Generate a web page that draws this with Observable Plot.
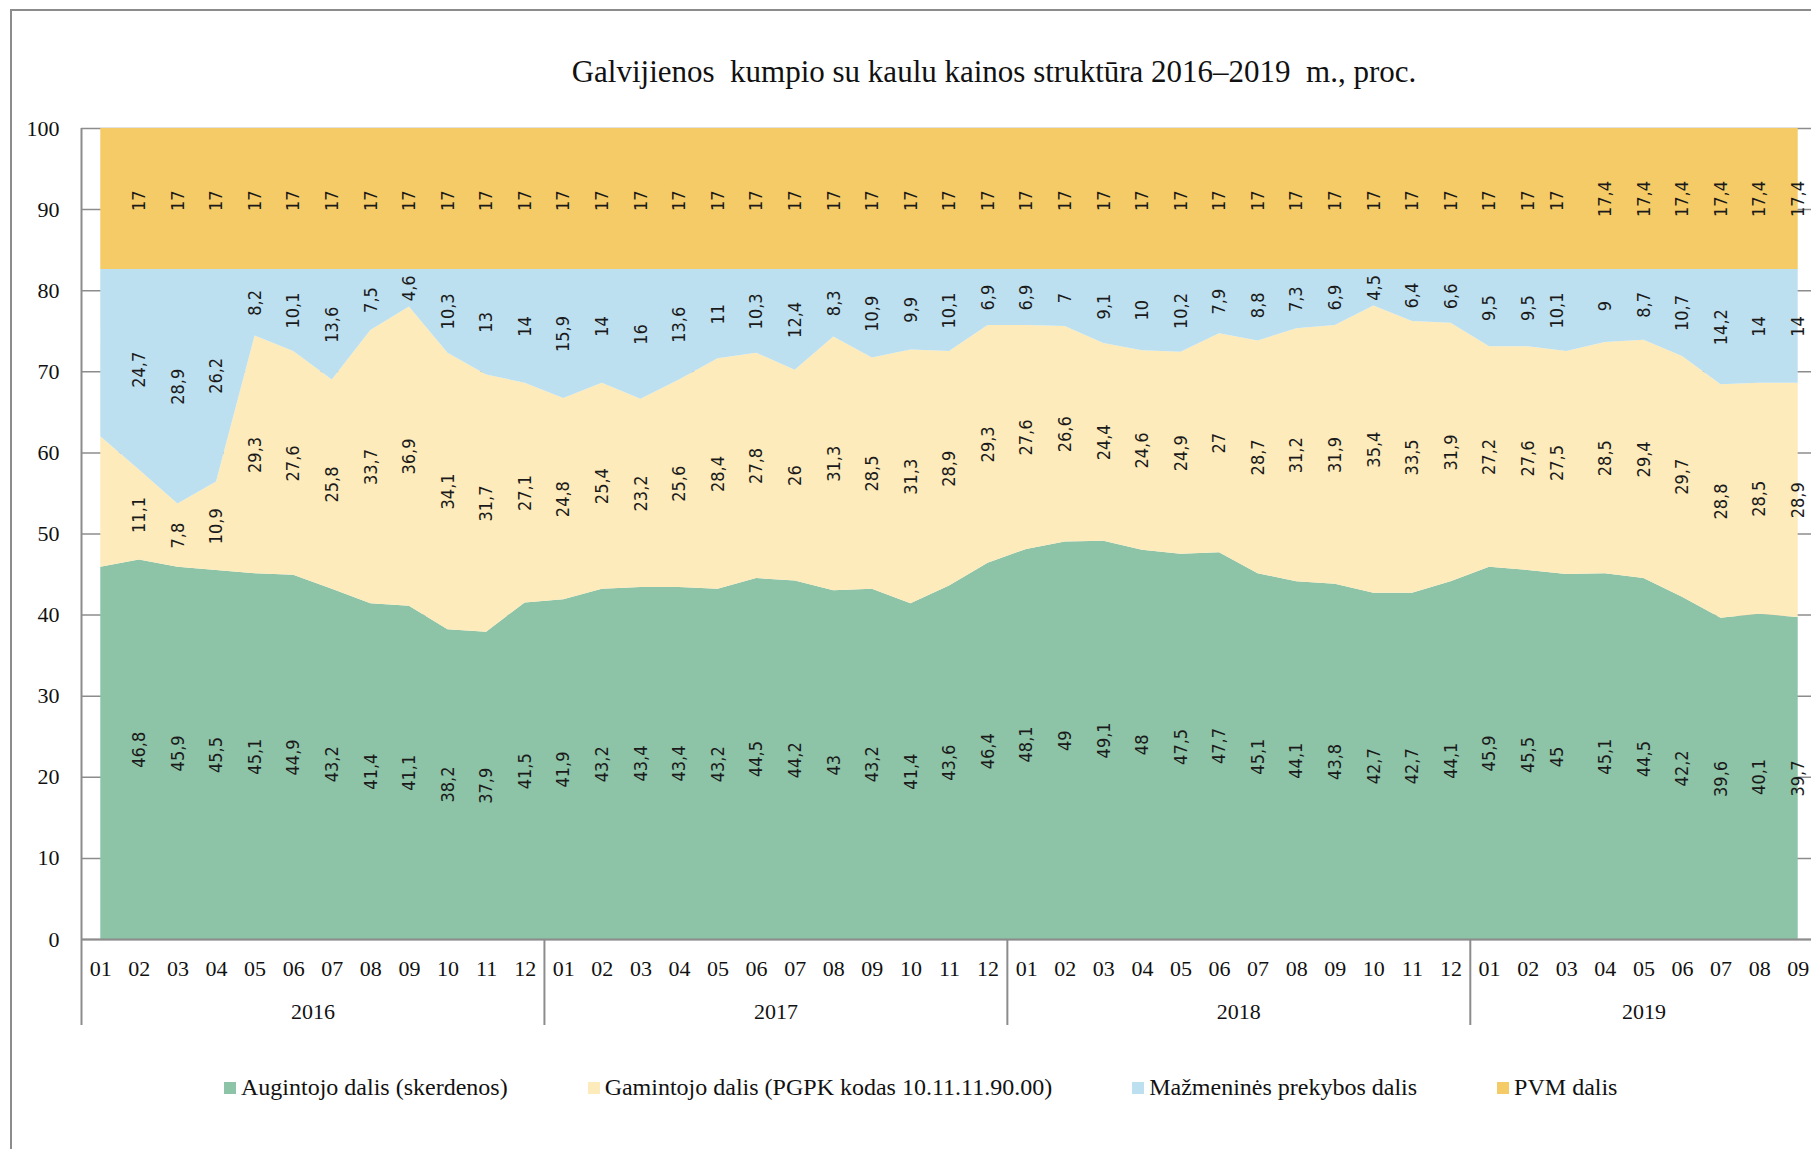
<!DOCTYPE html>
<html>
<head>
<meta charset="utf-8">
<script src="https://cdn.jsdelivr.net/npm/d3@7"></script>
<script src="https://cdn.jsdelivr.net/npm/@observablehq/plot@0.6"></script>
<style>
  html, body { margin: 0; padding: 0; background: #fff; overflow: hidden; width: 1811px; height: 1149px; }
  #frame { position: absolute; left: 10px; top: 9px; width: 2000px; height: 2000px; border: 2px solid #8c8c8c; box-sizing: border-box; }
  #title { position: absolute; left: 0; width: 1988px; top: 56px; line-height: 31px; text-align: center;
           font-family: "Liberation Serif", "Times New Roman", serif; font-size: 31px; white-space: pre; color: #111; }
  #chart { position: absolute; left: 0; top: 100px; }
  #legend { position: absolute; left: 224px; top: 1074px; display: flex; gap: 80px; align-items: center;
            font-family: "Liberation Serif", "Times New Roman", serif; font-size: 24px; color: #111; white-space: pre; }
  .item { display: flex; align-items: center; gap: 5px; }
  .sw { width: 12px; height: 12px; display: inline-block; }
</style>
</head>
<body>
<div id="frame"></div>
<div id="title">Galvijienos  kumpio su kaulu kainos struktūra 2016–2019  m., proc.</div>
<div id="chart"></div>
<div id="legend"></div>
<script>
// ---- Data ----
const periods = [
  "2016-01","2016-02","2016-03","2016-04","2016-05","2016-06","2016-07","2016-08","2016-09","2016-10","2016-11","2016-12",
  "2017-01","2017-02","2017-03","2017-04","2017-05","2017-06","2017-07","2017-08","2017-09","2017-10","2017-11","2017-12",
  "2018-01","2018-02","2018-03","2018-04","2018-05","2018-06","2018-07","2018-08","2018-09","2018-10","2018-11","2018-12",
  "2019-01","2019-02","2019-03","2019-04","2019-05","2019-06","2019-07","2019-08","2019-09"
];
const monthLabels = [
  "01","02","03","04","05","06","07","08","09","10","11","12",
  "01","02","03","04","05","06","07","08","09","10","11","12",
  "01","02","03","04","05","06","07","08","09","10","11","12",
  "01","02","03","04","05","06","07","08","09"
];
const years = ["2016","2017","2018","2019"];

const augintojo = [
  45.9, 46.8, 45.9, 45.5, 45.1, 44.9, 43.2, 41.4, 41.1, 38.2, 37.9, 41.5,
  41.9, 43.2, 43.4, 43.4, 43.2, 44.5, 44.2, 43, 43.2, 41.4, 43.6, 46.4,
  48.1, 49, 49.1, 48, 47.5, 47.7, 45.1, 44.1, 43.8, 42.7, 42.7, 44.1,
  45.9, 45.5, 45, 45.1, 44.5, 42.2, 39.6, 40.1, 39.7
];
const gamintojo = [
  16.1, 11.1, 7.8, 10.9, 29.3, 27.6, 25.8, 33.7, 36.9, 34.1, 31.7, 27.1,
  24.8, 25.4, 23.2, 25.6, 28.4, 27.8, 26, 31.3, 28.5, 31.3, 28.9, 29.3,
  27.6, 26.6, 24.4, 24.6, 24.9, 27, 28.7, 31.2, 31.9, 35.4, 33.5, 31.9,
  27.2, 27.6, 27.5, 28.5, 29.4, 29.7, 28.8, 28.5, 28.9
];
const mazmenine = [
  20.6, 24.7, 28.9, 26.2, 8.2, 10.1, 13.6, 7.5, 4.6, 10.3, 13, 14,
  15.9, 14, 16, 13.6, 11, 10.3, 12.4, 8.3, 10.9, 9.9, 10.1, 6.9,
  6.9, 7, 9.1, 10, 10.2, 7.9, 8.8, 7.3, 6.9, 4.5, 6.4, 6.6,
  9.5, 9.5, 10.1, 9, 8.7, 10.7, 14.2, 14, 14
];
const pvm = [
  17, 17, 17, 17, 17, 17, 17, 17, 17, 17, 17, 17,
  17, 17, 17, 17, 17, 17, 17, 17, 17, 17, 17, 17,
  17, 17, 17, 17, 17, 17, 17, 17, 17, 17, 17, 17,
  17, 17, 17, 17.4, 17.4, 17.4, 17.4, 17.4, 17.4
];
const seriesNames = [
  "Augintojo dalis (skerdenos)",
  "Gamintojo dalis (PGPK kodas 10.11.11.90.00)",
  "Mažmeninės prekybos dalis",
  "PVM dalis"
];
const seriesColors = ["#8dc3a7", "#fdebbb", "#bde0f0", "#f4cb66"];
const unlabeledPeriods = ["2016-01"];
const shiftedPeriods = ["2019-03"];
const yTicks = [0, 10, 20, 30, 40, 50, 60, 70, 80, 90, 100];

// ---- Build table ----
const seriesValues = [augintojo, gamintojo, mazmenine, pvm];
const rows = [];
periods.forEach((p, i) => {
  let cum = 0;
  seriesValues.forEach((vals, k) => {
    const v = vals[i];
    const last = k === seriesValues.length - 1;
    rows.push({
      i, period: p, year: p.slice(0, 4), series: seriesNames[k], v,
      y1: cum, y2: last ? 100 : cum + v, mid: cum + v / 2
    });
    cum += v;
  });
});
const fmt = v => String(v).replace(".", ",");
const labelRows = rows.filter(d => !unlabeledPeriods.includes(d.period) && !shiftedPeriods.includes(d.period));
const shiftedRows = rows.filter(d => shiftedPeriods.includes(d.period));

const idx = periods.map((_, i) => i);
const yearCenters = years.map(y => d3.mean(idx.filter(i => periods[i].startsWith(y))));
const yearBounds = years.map(y => d3.min(idx.filter(i => periods[i].startsWith(y))) - 0.5);

const labelFont = { fontFamily: "'DejaVu Sans Condensed', 'DejaVu Sans', sans-serif", fontSize: 18, fill: "#1a1a1a" };
const gray = "#8c8c8c";

const chart = Plot.plot({
  width: 1840,
  height: 934,
  marginLeft: 81,
  marginRight: 23,
  marginTop: 28,
  marginBottom: 95,
  style: { background: "none", maxWidth: "none", overflow: "visible", fontFamily: "'Liberation Serif', 'Times New Roman', serif", fontSize: "22px", color: "#111" },
  x: { type: "linear", domain: [-0.5, periods.length - 0.5], axis: null, label: null },
  y: { domain: [0, 100], axis: null, label: null },
  color: { domain: seriesNames, range: seriesColors },
  marks: [
    Plot.ruleY(yTicks, { stroke: gray, strokeWidth: 1.5 }),
    Plot.areaY(rows, { x: "i", y1: "y1", y2: "y2", fill: "series", z: "series" }),
    Plot.text(labelRows, { x: "i", y: "mid", text: d => fmt(d.v), rotate: -90, ...labelFont }),
    Plot.text(shiftedRows, { x: "i", y: "mid", text: d => fmt(d.v), rotate: -90, dx: -10, ...labelFont }),
    Plot.ruleY([0], { stroke: gray, strokeWidth: 2 }),
    Plot.ruleX([-0.5], { stroke: gray, strokeWidth: 2 }),
    Plot.axisY(yTicks, { tickSize: 0, tickPadding: 22, fontSize: 22, label: null }),
    Plot.axisX(idx, { tickSize: 0, tickPadding: 21, tickFormat: i => monthLabels[i], fontSize: 22, label: null }),
    Plot.axisX(yearBounds, { tickSize: 86, tickFormat: () => "", stroke: gray, strokeWidth: 2, label: null }),
    Plot.axisX(yearCenters, { tickSize: 0, tickPadding: 64, tickFormat: (d, k) => years[k], fontSize: 22, label: null })
  ]
});
document.getElementById("chart").appendChild(chart);

const legend = document.getElementById("legend");
seriesNames.forEach((name, k) => {
  const item = document.createElement("div");
  item.className = "item";
  const sw = document.createElement("span");
  sw.className = "sw";
  sw.style.background = seriesColors[k];
  const t = document.createElement("span");
  t.textContent = name;
  item.appendChild(sw);
  item.appendChild(t);
  legend.appendChild(item);
});
</script>
</body>
</html>
